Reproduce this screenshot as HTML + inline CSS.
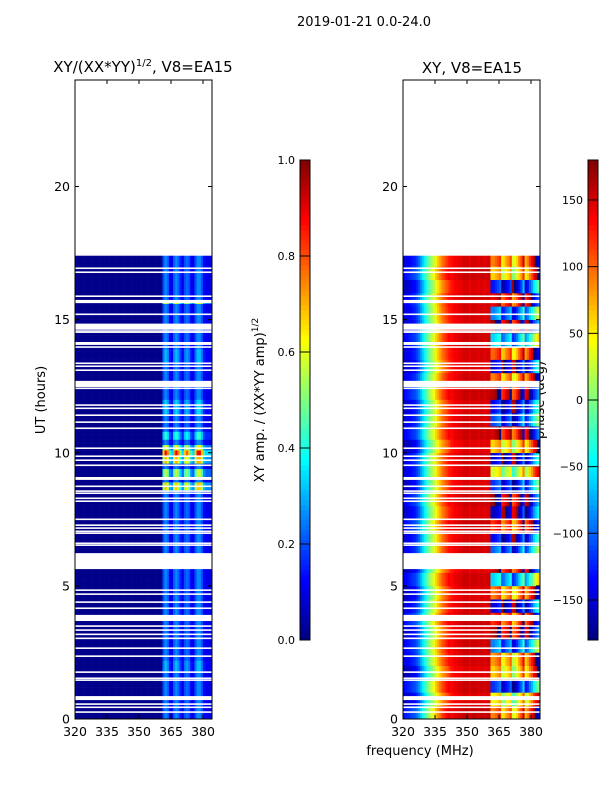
<!DOCTYPE html>
<html><head><meta charset="utf-8">
<style>
html,body{margin:0;padding:0;background:#fff;}
svg{display:block;font-family:"DejaVu Sans","Liberation Sans",sans-serif;}
</style></head>
<body>
<svg id="fig" width="600" height="800" viewBox="0 0 600 800">
  <text x="364" y="26" font-size="13" text-anchor="middle">2019-01-21 0.0-24.0</text>
  <text x="143" y="72" font-size="15" text-anchor="middle">XY/(XX*YY)<tspan font-size="10" dy="-6">1/2</tspan><tspan dy="6">, V8=EA15</tspan></text>
  <text x="472" y="73" font-size="15" text-anchor="middle">XY, V8=EA15</text>
  <text transform="translate(45,400) rotate(-90)" font-size="13" text-anchor="middle">UT (hours)</text>
  <text x="420" y="755" font-size="13" text-anchor="middle">frequency (MHz)</text>
  <text transform="translate(264,400) rotate(-90)" font-size="13" text-anchor="middle">XY amp. / (XX*YY amp)<tspan font-size="9" dy="-6">1/2</tspan></text>
  <text transform="translate(544,400) rotate(-90)" font-size="13" text-anchor="middle">phase (deg)</text>
  <g id="left"></g>
  <g id="right"></g>
  <g id="axes"></g>
</svg>
<script>
// ---- data ----
const freqCols = [];  // 1 MHz columns 320..383
for (let f = 320; f < 384; f++) freqCols.push(f);
const ampHigh = [0.2,0.26,0.22,0.12,0.1,0.22,0.26,0.22,0.15,0.1,0.2,0.23,0.2,0.12,0.1,0.2,0.26,0.26,0.2,0.12,0.1,0.1,0.1];
const ampLow = 0.01;
const ampBands = [[8.6,8.9,2.6],[9.0,9.45,2.2],[9.55,9.9,2.7],[9.9,10.1,3.4],[10.1,10.35,2.4],[10.5,10.85,1.6],[11.4,12.0,1.3],[15.6,15.75,2.4],[13.4,13.9,1.2],[1.8,2.2,1.2]];
const phaseLow = [-150,-145,-140,-135,-130,-125,-115,-100,-80,-60,-40,-20,0,15,30,50,65,80,95,105,115,125,130,135,140,140,145,145,150,150,150,145,150,150,150,145,150,150,145,150,150];
const phaseHighCol = [0,0,10,20,30,-40,-30,-10,0,20,-60,-50,-30,0,20,60,-20,0,30,50,80,100,120];
const phaseHighRow = [90,40,-120,60,80,-90,160,120,-150,90,-60,150,-100,-140,120,-160,170,-120,30,-150,60,150,-110,-140,160,90,-150,100,-60,170,-90,140,-130,60,90];
const rowPhaseShift = [20,-10,15,-15,5,10,-5,15,0,-10,10,-15,5,0,15,-5,10,-10,0,5,-15,10,0,-5,15,5,-10,0,10,-5,0,5,-10,15,0];
const gaps = [[16.9,0.06],[16.75,0.06],[15.85,0.06],[15.62,0.12],[15.17,0.06],[14.62,0.23],[14.55,0.05],[14.5,0.05],[14.05,0.11],[13.94,0.06],[13.33,0.06],[13.22,0.06],[13.07,0.06],[12.47,0.23],[12.39,0.06],[11.76,0.06],[11.64,0.06],[11.38,0.06],[11.12,0.06],[10.89,0.06],[10.14,0.06],[9.84,0.06],[9.69,0.06],[9.5,0.06],[8.98,0.11],[8.71,0.06],[8.53,0.06],[8.45,0.06],[8.26,0.06],[8.15,0.06],[7.47,0.06],[7.25,0.06],[7.14,0.06],[7.02,0.06],[6.95,0.06],[6.57,0.06],[6.5,0.06],[5.63,0.6],[4.81,0.06],[4.66,0.06],[4.36,0.06],[4.13,0.06],[3.68,0.23],[3.46,0.06],[3.31,0.06],[3.15,0.06],[3.0,0.06],[2.63,0.06],[2.33,0.06],[1.73,0.06],[1.5,0.06],[1.43,0.06],[0.71,0.15],[0.53,0.06],[0.41,0.06],[0.23,0.06]];
const dataEnd = 17.4;
const yTicks = [0,5,10,15,20];
const xTicks = [320,335,350,365,380];
const ampTicks = [0.0,0.2,0.4,0.6,0.8,1.0];
const phaseTicks = [-150,-100,-50,0,50,100,150];

// ---- helpers ----
const NS = "http://www.w3.org/2000/svg";
function jet(v){v=Math.max(0,Math.min(1,v));const c=x=>Math.round(255*Math.max(0,Math.min(1,x)));
  return `rgb(${c(1.5-Math.abs(4*v-3))},${c(1.5-Math.abs(4*v-2))},${c(1.5-Math.abs(4*v-1))})`;}
function mk(tag, attrs, parent){const e=document.createElementNS(NS,tag);for(const k in attrs)e.setAttribute(k,attrs[k]);parent.appendChild(e);return e;}
const Y0=719, Y1=80;
const yS = h => Y0 - (h/24)*(Y0-Y1);
function xS(x0){return f => x0 + (f-320)/15*32;}
const panels=[{x0:75,g:document.getElementById('left'),kind:'amp'},{x0:403,g:document.getElementById('right'),kind:'phase'}];
const rowH=0.1, nRows=Math.round(dataEnd/rowH);
const axes=document.getElementById('axes');

panels.forEach(p=>{
  const xs=xS(p.x0);
  for(let r=0;r<nRows;r++){
    const h0=r*rowH, h1=h0+rowH;
    const band=Math.min(34,Math.floor(h0/0.5));
    freqCols.forEach((f,ci)=>{
      let color;
      if(p.kind==='amp'){
        let v = f>=361 ? ampHigh[f-361] : ampLow;
        ampBands.forEach(b=>{ if(h0>=b[0]-0.01 && h1<=b[1]+0.01 && f>=361) v*=b[2]; });
        color=jet(v);
      } else {
        let ph;
        if(f<361) ph = phaseLow[f-320] + rowPhaseShift[band]*(f<342?1:0.3);
        else ph = phaseHighRow[band] + phaseHighCol[f-361];
        ph=((ph+180)%360+360)%360-180;
        color=jet((ph+180)/360);
      }
      const cell=mk('rect',{x:xs(f).toFixed(2),y:yS(h1).toFixed(2),width:(xs(f+1)-xs(f)+0.3).toFixed(2),height:(yS(h0)-yS(h1)+0.3).toFixed(2),fill:color},p.g);
      
      
    });
  }
  gaps.forEach(gp=>{
    const w=mk('rect',{x:p.x0,y:yS(gp[0]+gp[1]).toFixed(2),width:137,height:(yS(gp[0])-yS(gp[0]+gp[1])).toFixed(2),fill:'#fff'},p.g);
    
    
  });
  const fr=mk('rect',{x:p.x0,y:Y1,width:137,height:Y0-Y1,fill:'none',stroke:'#000','stroke-width':1},axes);
  
  
  yTicks.forEach(t=>{
    const y=yS(t);
    mk('line',{x1:p.x0,x2:p.x0+4,y1:y,y2:y,stroke:'#000'},axes);
    mk('line',{x1:p.x0+137,x2:p.x0+133,y1:y,y2:y,stroke:'#000'},axes);
    const tx=mk('text',{x:p.x0-5,y:y+4.5,'font-size':12.5,'text-anchor':'end'},axes);
    tx.textContent=t;
    
    
  });
  xTicks.forEach(t=>{
    const x=xs(t);
    mk('line',{x1:x,x2:x,y1:Y0,y2:Y0-4,stroke:'#000'},axes);
    mk('line',{x1:x,x2:x,y1:Y1,y2:Y1+4,stroke:'#000'},axes);
    const tx=mk('text',{x:x,y:Y0+17,'font-size':12.5,'text-anchor':'middle'},axes);
    tx.textContent=t;
    
    
  });
});

// colorbars
function colorbar(x,lo,hi,ticks,name,fmt){
  const g=mk('g',{},axes);
  
  
  const top=160,bot=640,n=96;
  for(let i=0;i<n;i++){
    mk('rect',{x:x,y:(bot-(i+1)*(bot-top)/n).toFixed(2),width:10,height:((bot-top)/n+0.4).toFixed(2),fill:jet((i+0.5)/n)},g);
  }
  mk('rect',{x:x,y:top,width:10,height:bot-top,fill:'none',stroke:'#000','stroke-width':1},g);
  ticks.forEach(t=>{
    const y=bot-(t-lo)/(hi-lo)*(bot-top);
    mk('line',{x1:x,x2:x+10,y1:y,y2:y,stroke:'#000'},g);
    const tx=mk('text',{x:x-5,y:y+4,'font-size':11,'text-anchor':'end'},g);
    tx.textContent=fmt(t);
    
    
  });
}
colorbar(300,0,1,ampTicks,'amp-colorbar',t=>t.toFixed(1));
colorbar(588,-180,180,phaseTicks,'phase-colorbar',t=>t<0?'\u2212'+(-t):String(t));
</script>
</body></html>
